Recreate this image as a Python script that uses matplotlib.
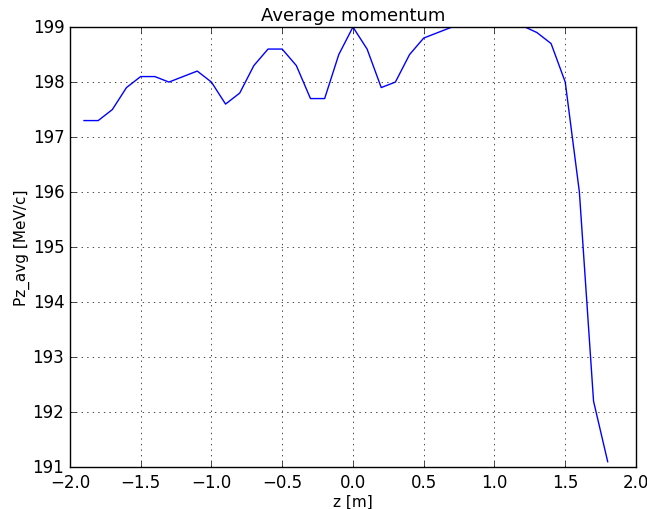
import matplotlib
matplotlib.use('Agg')
from matplotlib import pyplot as plt

z = [-1.9, -1.8, -1.7, -1.6, -1.5, -1.4, -1.3, -1.2, -1.1, -1.0,
     -0.9, -0.8, -0.7, -0.6, -0.5, -0.4, -0.3, -0.2, -0.1, 0.0,
     0.1, 0.2, 0.3, 0.4, 0.5, 0.6, 0.7, 0.8, 0.9, 1.0,
     1.1, 1.2, 1.3, 1.4, 1.5, 1.6, 1.7, 1.8]
pz_avg = [197.3, 197.3, 197.5, 197.9, 198.1, 198.1, 198.0, 198.1, 198.2, 198.0,
          197.6, 197.8, 198.3, 198.6, 198.6, 198.3, 197.7, 197.7, 198.5, 199.0,
          198.6, 197.9, 198.0, 198.5, 198.8, 198.9, 199.0, 199.1, 199.2, 199.2,
          199.1, 199.02, 198.9, 198.7, 198.0, 196.0, 192.2, 191.1]

plt.style.use('classic')
fig = plt.figure(figsize=(6.47, 5.10), dpi=100, facecolor='white')
ax = fig.add_axes([0.108, 0.082, 0.875, 0.863])
ax.plot(z, pz_avg, 'b-')
ax.set_xlim(-2.0, 2.0)
ax.set_ylim(191, 199)
ax.ticklabel_format(useOffset=False)
ax.grid(True)
ax.set_title('Average momentum', fontsize=13)
ax.set_xlabel('z [m]', fontsize=11, labelpad=2)
ax.set_ylabel('Pz_avg [MeV/c]', fontsize=11, labelpad=2)
fig.savefig('out.png', dpi=100, facecolor='white')
